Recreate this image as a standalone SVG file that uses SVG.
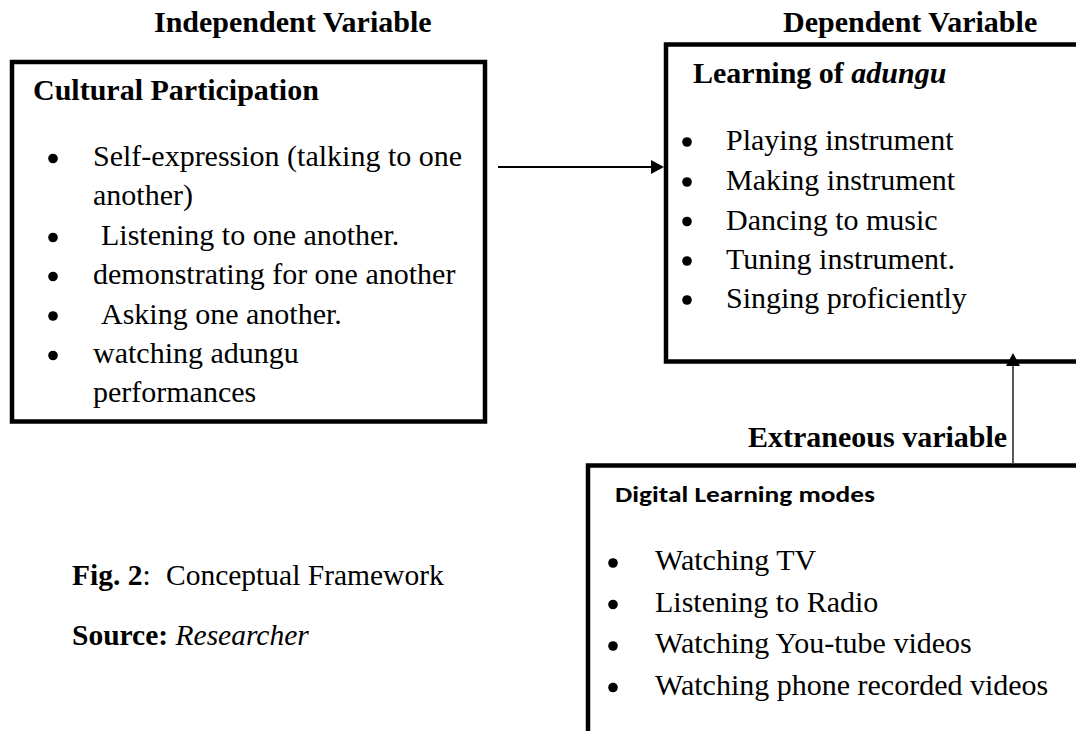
<svg xmlns="http://www.w3.org/2000/svg" width="1076" height="731" viewBox="0 0 1076 731">
  <style>
    .box { fill: #ffffff; stroke: #000000; stroke-width: 4.5; }
    .title { font-family: "Liberation Serif", "Times New Roman", serif; font-size: 30px; font-weight: bold; fill: #000000; }
    .item { font-family: "Liberation Serif", "Times New Roman", serif; font-size: 30px; fill: #000000; }
    .sans { font-family: Carlito, Lato, "Open Sans", "Liberation Sans", sans-serif; font-size: 22px; font-weight: bold; fill: #000000; }
    .caption { font-family: "Liberation Serif", "Times New Roman", serif; font-size: 29.5px; fill: #000000; }
    .dot { fill: #000000; }
    .link { stroke: #000000; fill: none; }
  </style>
  <defs>
    <marker id="arrow" markerUnits="userSpaceOnUse" markerWidth="13" markerHeight="14" viewBox="0 0 13 14" refX="3" refY="7" orient="auto">
      <path d="M0,0 L13,7 L0,14 Z" fill="#000000"/>
    </marker>
  </defs>
  <rect width="1076" height="731" fill="#ffffff"/>

  <!-- Column headings -->
  <text class="title" x="154" y="32">Independent Variable</text>
  <text class="title" x="783" y="32">Dependent Variable</text>

  <!-- Independent variable: cultural participation -->
  <g id="cultural-participation">
    <rect class="box" x="12" y="62" width="473" height="359.5"/>
    <text class="title" x="33" y="100">Cultural Participation</text>
    <circle class="dot" cx="53" cy="158.5" r="4.8"/>
    <text class="item" x="93" y="166">Self-expression (talking to one</text>
    <text class="item" x="93" y="205">another)</text>
    <circle class="dot" cx="53" cy="237.5" r="4.8"/>
    <text class="item" x="101" y="245">Listening to one another.</text>
    <circle class="dot" cx="53" cy="276.5" r="4.8"/>
    <text class="item" x="93" y="284">demonstrating for one another</text>
    <circle class="dot" cx="53" cy="316" r="4.8"/>
    <text class="item" x="101" y="323.5">Asking one another.</text>
    <circle class="dot" cx="53" cy="355.5" r="4.8"/>
    <text class="item" x="93" y="363">watching adungu</text>
    <text class="item" x="93" y="402">performances</text>
  </g>

  <!-- Dependent variable: learning of adungu -->
  <g id="learning-of-adungu">
    <rect class="box" x="666" y="44.5" width="440" height="317"/>
    <text class="title" x="693" y="83">Learning of <tspan font-style="italic">adungu</tspan></text>
    <circle class="dot" cx="687" cy="142" r="4.8"/>
    <text class="item" x="726" y="150">Playing instrument</text>
    <circle class="dot" cx="687" cy="182" r="4.8"/>
    <text class="item" x="726" y="190">Making instrument</text>
    <circle class="dot" cx="687" cy="221.5" r="4.8"/>
    <text class="item" x="726" y="229.5">Dancing to music</text>
    <circle class="dot" cx="687" cy="261" r="4.8"/>
    <text class="item" x="726" y="269">Tuning instrument.</text>
    <circle class="dot" cx="687" cy="300" r="4.8"/>
    <text class="item" x="726" y="308">Singing proficiently</text>
  </g>

  <!-- Extraneous variable: digital learning modes -->
  <text class="title" x="748" y="447">Extraneous variable</text>
  <g id="digital-learning-modes">
    <rect class="box" x="588" y="465.5" width="520" height="300"/>
    <text class="sans" x="615" y="502" textLength="260" lengthAdjust="spacingAndGlyphs">Digital Learning modes</text>
    <circle class="dot" cx="613" cy="563" r="4.8"/>
    <text class="item" x="655" y="570">Watching TV</text>
    <circle class="dot" cx="613" cy="604.5" r="4.8"/>
    <text class="item" x="655" y="611.5">Listening to Radio</text>
    <circle class="dot" cx="613" cy="646" r="4.8"/>
    <text class="item" x="655" y="653">Watching You-tube videos</text>
    <circle class="dot" cx="613" cy="687.5" r="4.8"/>
    <text class="item" x="655" y="694.5">Watching phone recorded videos</text>
  </g>

  <!-- Connectors -->
  <g id="connectors">
    <line class="link" x1="498" y1="167" x2="654" y2="167" stroke-width="2" marker-end="url(#arrow)"/>
    <line class="link" x1="1013" y1="463" x2="1013" y2="363" stroke-width="1.3" marker-end="url(#arrow)"/>
  </g>

  <!-- Caption -->
  <text class="caption" x="72" y="585"><tspan font-weight="bold">Fig. 2</tspan>:</text>
  <text class="caption" x="166" y="585">Conceptual Framework</text>
  <text class="caption" x="72" y="645"><tspan font-weight="bold">Source:</tspan> <tspan font-style="italic">Researcher</tspan></text>
</svg>
